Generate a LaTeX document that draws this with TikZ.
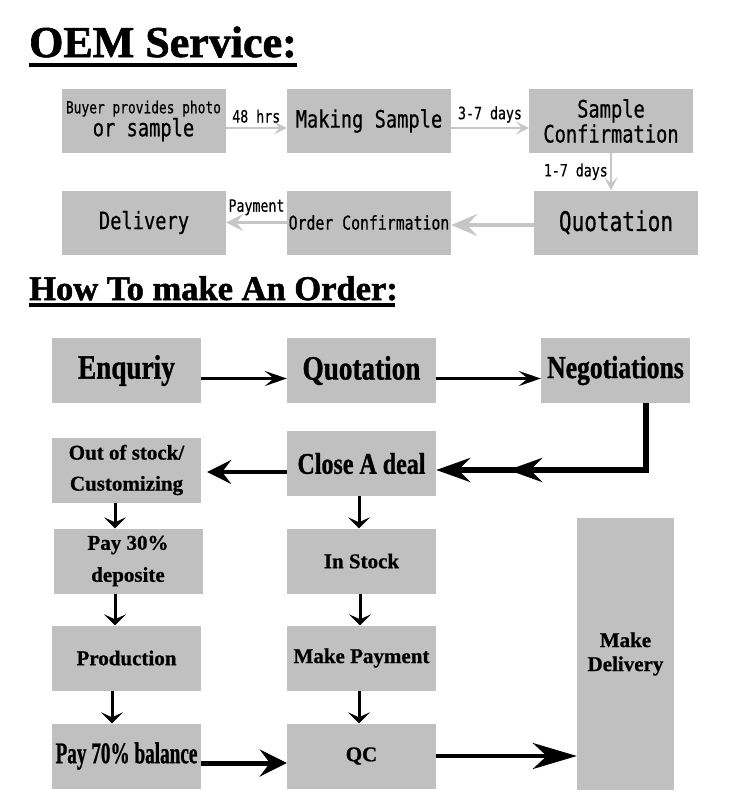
\documentclass[tikz,border=0pt]{standalone}
\usepackage{fontspec}
\usepackage{graphicx}
\usetikzlibrary{arrows.meta,decorations.markings}

\definecolor{boxgray}{RGB}{192,192,192}
\definecolor{arrgray}{RGB}{198,198,198}
\newfontfamily\narrowmono[FakeStretch=0.78,FakeBold=0.5]{DejaVu Sans Mono}
\newfontfamily\posterserif[FakeStretch=0.8,FakeBold=1]{Liberation Serif}
\newfontfamily\plainserif[FakeBold=0.8]{Liberation Serif}
\newfontfamily\headserif[FakeBold=1.5]{Liberation Serif}
\newcommand{\fsz}[2]{\fontsize{#1}{#2}\selectfont}

\begin{document}
\begin{tikzpicture}[x=1pt, y=-1pt,
  topbox/.style={fill=boxgray, minimum width=164pt, minimum height=64pt, inner sep=0pt, align=center, font={\narrowmono\fsz{24}{25}}},
  ordbox/.style={fill=boxgray, minimum width=149pt, minimum height=65pt, inner sep=0pt, align=center},
  bigtxt/.style={font={\posterserif\bfseries\fsz{34}{36}}},
  smalltxt/.style={font={\plainserif\bfseries\fsz{21}{31}}},
  lbl/.style={font={\narrowmono\fsz{17}{20}}, inner sep=1pt},
  grayarr/.style={draw=arrgray, line width=2.5pt, -{Stealth[length=13pt,width=13pt,inset=6pt]}},
  blkarr/.style={line width=2.7pt, -{Stealth[length=22pt,width=15pt,inset=9pt]}},
  downarr/.style={line width=3pt, -{Stealth[length=11pt,width=22pt,inset=5pt]}}]
\useasboundingbox (0,0) rectangle (750,800);

% OEM part
\node[anchor=base west, inner sep=0pt, font={\headserif\bfseries\fsz{44}{48}}] (oemtitle) at (29,57) {OEM Service:};
\draw[line width=4pt] (29,65) -- (297,65);

\node[topbox, font={\narrowmono\fsz{24}{23}}] (buyer) at (143.5,121) {\fsz{16.5}{23}Buyer provides photo\\or sample};
\node[topbox] (making) at (369,121) {Making Sample};
\node[topbox] (sconf) at (611,121) {Sample\\Confirmation};
\node[topbox, font={\narrowmono\fsz{27}{28}}] (quot) at (616,222.5) {Quotation};
\node[topbox, font={\narrowmono\fsz{19}{22}}] (order) at (369,222.5) {Order Confirmation};
\node[topbox] (deliv) at (144,222.5) {Delivery};

\draw[grayarr] ([yshift=-7pt]buyer.east) -- ([yshift=-7pt]making.west) node[lbl, midway, above=3pt] {48 hrs};
\draw[grayarr] ([yshift=-7pt]making.east) -- ([yshift=-7pt]sconf.west) node[lbl, midway, above=3pt] {3-7 days};
\draw[grayarr] (sconf.south) -- (sconf.south |- quot.north) node[lbl, midway, left=1pt] {1-7 days};
\draw[grayarr, line width=4pt, -{Stealth[length=26pt,width=22pt,inset=10pt]}] ([yshift=-2.5pt]quot.west) -- ([yshift=-2.5pt]order.east);
\draw[grayarr, -{Stealth[length=17pt,width=17pt,inset=7pt]}] (order.west) -- (deliv.east) node[lbl, midway, above=5pt] {Payment};

% order part
\node[anchor=base west, inner sep=0pt, font={\headserif\bfseries\fsz{34.5}{36}}] (ordtitle) at (29,300) {How To make An Order:};
\draw[line width=3.5pt] (29,305) -- (395,305);

\node[ordbox, bigtxt] (enq) at (126.5,370.5) {Enquriy};
\node[ordbox, bigtxt] (quo) at (361.5,370.5) {Quotation};
\node[ordbox, bigtxt, font={\posterserif\bfseries\fsz{32}{34}}] (neg) at (615.5,370.5) {Negotiations};
\node[ordbox, bigtxt, font={\posterserif\bfseries\fsz{30}{32}}] (close) at (361.5,463.5) {Close A deal};
\node[ordbox, smalltxt] (out) at (126.5,470) {Out of stock/\\Customizing};
\node[ordbox, smalltxt, font={\plainserif\bfseries\fsz{21}{32}}] (pay30) at (128,561) {Pay 30\%\\deposite};
\node[ordbox, smalltxt] (instock) at (361.5,561) {In Stock};
\node[ordbox, smalltxt] (prod) at (126.5,658) {Production};
\node[ordbox, smalltxt] (makepay) at (361.5,658) {Make Payment};
\node[ordbox, bigtxt, font={\posterserif\bfseries\fsz{30}{32}}] (pay70) at (126.5,756) {\scalebox{0.8}[1]{Pay 70\% balance}};
\node[ordbox, smalltxt] (qc) at (361.5,756) {QC};
\node[ordbox, smalltxt, font={\plainserif\bfseries\fsz{21}{24}}, minimum width=97pt, minimum height=272pt] (makedel) at (625.5,654) {Make\\Delivery};

\draw[blkarr] ([yshift=-8pt]enq.east) -- ([yshift=-8pt]quo.west);
\draw[blkarr] ([yshift=-8pt]quo.east) -- ([yshift=-8pt]neg.west);
\draw[line width=5.5pt, -{Stealth[length=34pt,width=24pt,inset=12pt]},
  postaction={decorate}, decoration={markings, mark=at position 0.74 with {\arrow{Stealth[length=34pt,width=24pt,inset=12pt]}}}]
  ([xshift=-44pt]neg.south east) |- ([yshift=-6.5pt]close.east);
\draw[line width=4.5pt, shorten >=6pt, -{Stealth[length=24pt,width=24pt,inset=9pt]}] ([yshift=-8.5pt]close.west) -- ([yshift=-8.5pt]close.west -| out.east);
\draw[downarr] ([xshift=-11.5pt]out.south) -- ([xshift=-11.5pt]out.south |- pay30.north);
\draw[downarr] ([xshift=-2.5pt]close.south) -- ([xshift=-2.5pt]close.south |- instock.north);
\draw[downarr] ([xshift=-13pt]pay30.south) -- ([xshift=-13pt]pay30.south |- prod.north);
\draw[downarr] ([xshift=-1.5pt]instock.south) -- ([xshift=-1.5pt]instock.south |- makepay.north);
\draw[downarr] ([xshift=-14.5pt]prod.south) -- ([xshift=-14.5pt]prod.south |- pay70.north);
\draw[downarr] ([xshift=-2.5pt]makepay.south) -- ([xshift=-2.5pt]makepay.south |- qc.north);
\draw[line width=5pt, -{Stealth[length=27pt,width=27pt,inset=10pt]}] ([yshift=-7pt]pay70.east) -- ([yshift=-7pt]qc.west);
\draw[line width=4.5pt, -{Stealth[length=44pt,width=26pt,inset=14pt]}] (qc.east) -- (qc.east -| makedel.west);
\end{tikzpicture}
\end{document}
